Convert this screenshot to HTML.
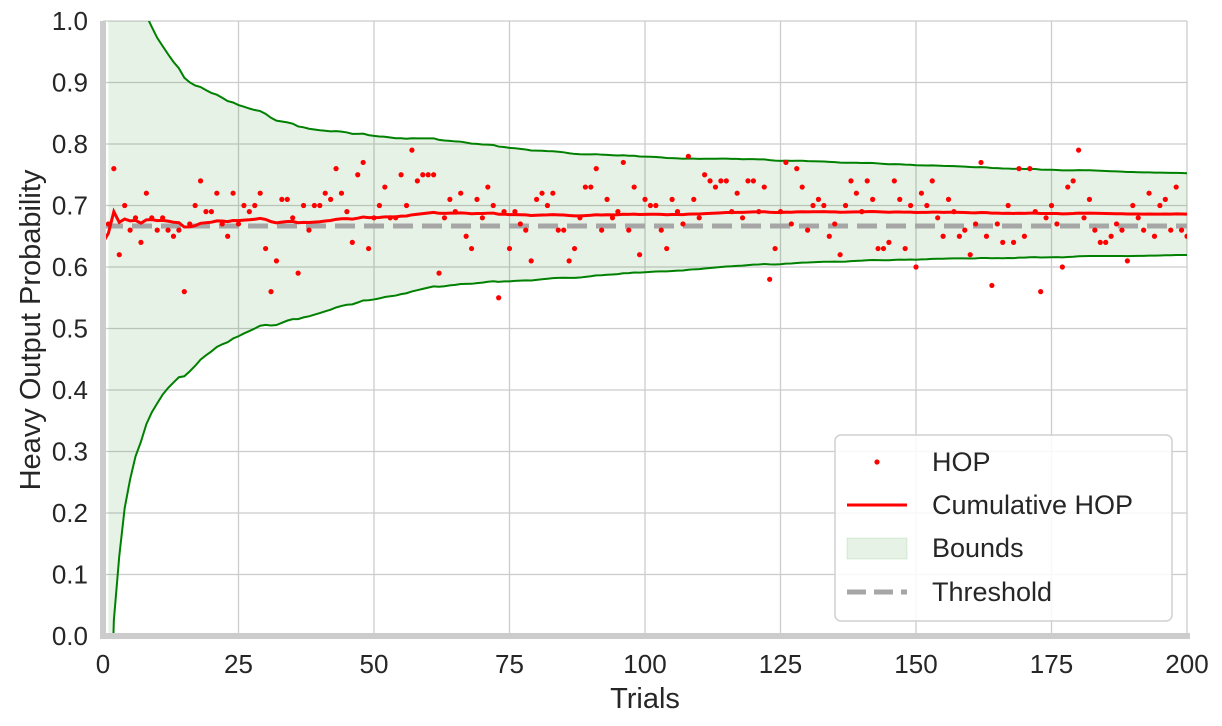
<!DOCTYPE html>
<html><head><meta charset="utf-8"><style>
html,body{margin:0;padding:0;background:#fff;overflow:hidden;width:1222px;height:726px;}
svg{display:block;font-family:"Liberation Sans",Arial,sans-serif;}
</style></head><body>
<svg id="chart" width="1222" height="726" viewBox="0 0 1222 726">
<defs><clipPath id="clip"><rect x="103" y="21" width="1084" height="615"/></clipPath></defs>
<g id="grid"></g>
<g id="bounds" clip-path="url(#clip)"></g>
<g id="thresh"></g>
<g id="pts" clip-path="url(#clip)"></g>
<g id="cum" clip-path="url(#clip)"></g>
<rect x="100" y="21" width="6" height="618" fill="#cccccc"/>
<rect x="100" y="633" width="1090" height="6" fill="#cccccc"/>
<g id="ticks" font-size="26" fill="#262626"></g>
<text x="645" y="708" font-size="29" text-anchor="middle" fill="#262626">Trials</text>
<text transform="translate(40,330) rotate(-90)" font-size="29" text-anchor="middle" fill="#262626">Heavy Output Probability</text>
<g>
<rect x="835" y="435" width="337" height="186" rx="6" fill="#fff" fill-opacity="0.85" stroke="#d0d0d0" stroke-width="1.5"/>
<circle cx="877" cy="462" r="2.6" fill="red"/>
<text x="932" y="471" font-size="27" fill="#262626">HOP</text>
<line x1="847" y1="505" x2="907" y2="505" stroke="red" stroke-width="3"/>
<text x="932" y="514" font-size="27" fill="#262626">Cumulative HOP</text>
<rect x="847" y="538" width="60" height="21" fill="rgba(0,128,0,0.1)" stroke="rgba(0,128,0,0.12)"/>
<text x="932" y="557" font-size="27" fill="#262626">Bounds</text>
<line x1="847" y1="592" x2="907" y2="592" stroke="#a6a6a6" stroke-width="5" stroke-dasharray="19,8"/>
<text x="932" y="601" font-size="27" fill="#262626">Threshold</text>
</g>
</svg>
<script>
const hop = [0.64,0.67,0.76,0.62,0.70,0.66,0.68,0.64,0.72,0.68,0.66,0.68,0.66,0.65,0.66,0.56,0.67,0.70,0.74,0.69,0.69,
0.72,0.67,0.65,0.72,0.67,0.70,0.69,0.70,0.72,0.63,0.56,0.61,0.71,0.71,0.68,0.59,0.70,0.66,0.70,0.70,
0.72,0.71,0.76,0.72,0.69,0.64,0.75,0.77,0.63,0.68,0.70,0.73,0.68,0.68,0.75,0.70,0.79,0.74,0.75,0.75,
0.75,0.59,0.68,0.71,0.69,0.72,0.65,0.63,0.71,0.68,0.73,0.70,0.55,0.69,0.63,0.69,0.67,0.66,0.61,0.71,
0.72,0.70,0.72,0.66,0.66,0.61,0.63,0.68,0.73,0.73,0.76,0.66,0.71,0.68,0.69,0.77,0.66,0.73,0.62,0.71,
0.70,0.70,0.66,0.63,0.71,0.69,0.67,0.78,0.71,0.68,0.75,0.74,0.73,0.74,0.74,0.69,0.72,0.68,0.74,0.74,
0.69,0.73,0.58,0.63,0.69,0.77,0.67,0.76,0.73,0.66,0.70,0.71,0.70,0.65,0.67,0.62,0.70,0.74,0.72,0.69,
0.74,0.71,0.63,0.63,0.64,0.74,0.71,0.63,0.70,0.60,0.72,0.70,0.74,0.68,0.65,0.71,0.69,0.65,0.66,0.62,
0.67,0.77,0.65,0.57,0.67,0.64,0.70,0.64,0.76,0.65,0.76,0.69,0.56,0.68,0.70,0.67,0.60,0.73,0.74,0.79,
0.68,0.71,0.66,0.64,0.64,0.65,0.67,0.66,0.61,0.70,0.68,0.66,0.72,0.65,0.70,0.71,0.66,0.73,0.66,0.65];
const threshold = [2/3];
const xTicks = [0,25,50,75,100,125,150,175,200];
const yTicks = [0.0,0.1,0.2,0.3,0.4,0.5,0.6,0.7,0.8,0.9,1.0];
const boundWidth = [0.94];

const NS="http://www.w3.org/2000/svg";
const X=v=>103+v*(1084/200);
const Y=v=>636-v*615;
function mk(tag,attrs,parent){const e=document.createElementNS(NS,tag);for(const k in attrs)e.setAttribute(k,attrs[k]);parent.appendChild(e);return e;}
const grid=document.getElementById('grid'),ticks=document.getElementById('ticks');
xTicks.forEach(t=>{
  const l=mk('line',{x1:X(t),x2:X(t),y1:21,y2:636,stroke:'#cccccc','stroke-width':1.3},grid);
  
  
  const tx=mk('text',{x:X(t),y:673,'text-anchor':'middle'},ticks);tx.textContent=t;
  
  
});
yTicks.forEach(t=>{
  const l=mk('line',{x1:103,x2:1187,y1:Y(t),y2:Y(t),stroke:'#cccccc','stroke-width':1.3},grid);
  
  
  const tx=mk('text',{x:88,y:Y(t)+9,'text-anchor':'end'},ticks);tx.textContent=t.toFixed(1);
  
  
});
let s=0;const cum=[],up=[],lo=[],bi=[];
hop.forEach((v,i)=>{s+=v;const m=s/(i+1);cum.push(m);
  if(i>=1){const h=boundWidth[0]/Math.sqrt(i);up.push(m+h);lo.push(m-h);bi.push(i);}});
const bg=document.getElementById('bounds');
const K=bi.length;
let d='M'+bi.map((i,k)=>X(i)+','+Y(Math.min(up[k],3))).join(' L');
d+=' L'+bi.map((i,k)=>X(bi[K-1-k])+','+Y(Math.max(lo[K-1-k],-3))).join(' L')+' Z';
const area=mk('path',{d:d,fill:'rgba(0,128,0,0.1)'},bg);


const ul=mk('polyline',{points:bi.map((i,k)=>X(i)+','+Y(Math.min(up[k],3))).join(' '),fill:'none',stroke:'green','stroke-width':2},bg);


const ll=mk('polyline',{points:bi.map((i,k)=>X(i)+','+Y(Math.max(lo[k],-3))).join(' '),fill:'none',stroke:'green','stroke-width':2},bg);


const th=mk('line',{x1:103,x2:1187,y1:Y(threshold[0]),y2:Y(threshold[0]),stroke:'#a6a6a6','stroke-width':5,'stroke-dasharray':'20,9'},document.getElementById('thresh'));


const pg=document.getElementById('pts');
hop.forEach((v,i)=>{const c=mk('circle',{cx:X(i),cy:Y(v),r:2.6,fill:'red'},pg);
  
  });
const cl=mk('polyline',{points:cum.map((v,i)=>X(i)+','+Y(v)).join(' '),fill:'none',stroke:'red','stroke-width':3},document.getElementById('cum'));


</script>
</body></html>
